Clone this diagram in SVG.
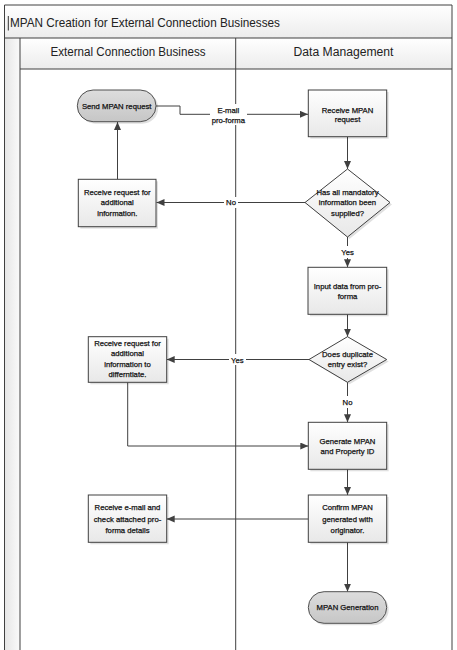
<svg xmlns="http://www.w3.org/2000/svg" width="457" height="650" viewBox="0 0 457 650">
<defs>
<linearGradient id="gHead" x1="0" y1="0" x2="0" y2="1"><stop offset="0" stop-color="#ffffff"/><stop offset="1" stop-color="#ececec"/></linearGradient>
<linearGradient id="gGut" x1="0" y1="0" x2="1" y2="0"><stop offset="0" stop-color="#e6e6e6"/><stop offset="1" stop-color="#fafafa"/></linearGradient>
<linearGradient id="gProc" x1="0" y1="0" x2="0" y2="1"><stop offset="0" stop-color="#ffffff"/><stop offset="1" stop-color="#e8e8e8"/></linearGradient>
<linearGradient id="gTerm" x1="0" y1="0" x2="0" y2="1"><stop offset="0" stop-color="#dddddd"/><stop offset="1" stop-color="#c6c6c6"/></linearGradient>
<marker id="arr" markerUnits="userSpaceOnUse" markerWidth="9" markerHeight="8" refX="8" refY="3.5" orient="auto"><path d="M0,0 L8,3.5 L0,7 z" fill="#404040"/></marker>
<style>
.lane{stroke:#404040;stroke-width:1;fill:none}
.proc{fill:url(#gProc);stroke:#404040;stroke-width:1}
.term{fill:url(#gTerm);stroke:#505050;stroke-width:1}
.shadow{fill:#000;opacity:0.12}
.conn{stroke:#404040;stroke-width:1;fill:none;marker-end:url(#arr)}
.t{font-family:"Liberation Sans",Arial,sans-serif;font-size:7.7px;fill:#111;stroke:#111;stroke-width:0.25px;text-anchor:middle}
.hdr{font-family:"Liberation Sans",Arial,sans-serif;font-size:12px;fill:#222;text-anchor:middle}
.lblbg{fill:#ffffff}
</style>
</defs>
<rect width="457" height="650" fill="#ffffff"/>
<g id="pool">
<rect x="4.5" y="5" width="447.5" height="33" fill="url(#gHead)"/>
<rect x="4.5" y="38" width="15.5" height="612" fill="url(#gGut)"/>
<rect x="20" y="38" width="432" height="31" fill="url(#gHead)"/>
<path class="lane" d="M4.5,650 V5 H452 V650 M4.5,38 H452 M20,38 V650 M20,69 H452 M235.7,38 V650"/>
<line x1="8.3" y1="16" x2="8.3" y2="30.5" stroke="#333" stroke-width="1"/>
<text x="10" y="27" font-family="'Liberation Sans',Arial,sans-serif" font-size="13px" fill="#222" textLength="270" lengthAdjust="spacingAndGlyphs">MPAN Creation for External Connection Businesses</text>
<text class="hdr" x="128" y="56" textLength="155" lengthAdjust="spacingAndGlyphs">External Connection Business</text>
<text class="hdr" x="343.5" y="56" textLength="100" lengthAdjust="spacingAndGlyphs">Data Management</text>
</g>
<g id="connectors">
<path class="conn" d="M156,106 H180 V114.3 H308"/>
<path class="conn" d="M347.5,137 V169"/>
<path class="conn" d="M305,202.5 H156.5"/>
<path class="conn" d="M117.5,179.3 V122"/>
<path class="conn" d="M347.5,236.5 V267.3"/>
<path class="conn" d="M347.5,314.3 V336.7"/>
<path class="conn" d="M309,359.5 H166.7"/>
<path class="conn" d="M347.5,382.3 V422.3"/>
<path class="conn" d="M127.7,382.3 V446 H308.3"/>
<path class="conn" d="M347.5,469.3 V495"/>
<path class="conn" d="M308.3,519 H166.7"/>
<path class="conn" d="M347.5,542.3 V591.7"/>
<rect class="lblbg" x="210" y="104" width="37" height="21"/>
<text class="t" x="228.3" y="112.8">E-mail</text>
<text class="t" x="228.3" y="122.8">pro-forma</text>
<rect class="lblbg" x="224" y="197" width="14" height="11"/>
<text class="t" x="231" y="205.3">No</text>
<rect class="lblbg" x="338" y="246" width="19" height="12"/>
<text class="t" x="347.5" y="255">Yes</text>
<rect class="lblbg" x="229" y="354" width="17" height="11"/>
<text class="t" x="237.3" y="362.5">Yes</text>
<rect class="lblbg" x="339" y="396" width="17" height="12"/>
<text class="t" x="347.5" y="404.5">No</text>
</g>
<g id="n-send">
<rect class="shadow" x="79.5" y="92" width="78.7" height="31.7" rx="15.8"/>
<rect class="term" x="77.3" y="90" width="78.7" height="31.7" rx="15.8"/>
<text class="t" x="116.7" y="109.3">Send MPAN request</text>
</g>
<g id="n-receive-mpan">
<rect class="shadow" x="310.3" y="92" width="78.4" height="46.7"/>
<rect class="proc" x="308.3" y="90" width="78.4" height="46.7"/>
<text class="t" x="347.5" y="112.8">Receive MPAN</text>
<text class="t" x="347.5" y="122.3">request</text>
</g>
<g id="n-mandatory">
<path class="shadow" d="M349.5,171 L392,204.5 L349.5,239 L307,204.5 z"/>
<path class="proc" d="M347.5,169 L390,202.5 L347.5,237 L305,202.5 z"/>
<text class="t" x="347.5" y="195">Has all mandatory</text>
<text class="t" x="347.5" y="205.2">information been</text>
<text class="t" x="347.5" y="215.5">supplied?</text>
</g>
<g id="n-receive-additional">
<rect class="shadow" x="80.3" y="181.3" width="77.7" height="47.4"/>
<rect class="proc" x="78.3" y="179.3" width="77.7" height="47.4"/>
<text class="t" x="117.3" y="195">Receive request for</text>
<text class="t" x="117.3" y="205.4">additional</text>
<text class="t" x="117.3" y="215.8">information.</text>
</g>
<g id="n-input">
<rect class="shadow" x="310" y="269.3" width="78.7" height="47"/>
<rect class="proc" x="308" y="267.3" width="78.7" height="47"/>
<text class="t" x="347.5" y="289.2">Input data from pro-</text>
<text class="t" x="347.5" y="299">forma</text>
</g>
<g id="n-duplicate">
<path class="shadow" d="M349.5,338.7 L388.7,361.5 L349.5,384.3 L311,361.5 z"/>
<path class="proc" d="M347.5,336.7 L386.7,359.5 L347.5,382.3 L309,359.5 z"/>
<text class="t" x="347.5" y="356.7">Does duplicate</text>
<text class="t" x="347.5" y="366.8">entry exist?</text>
</g>
<g id="n-differentiate">
<rect class="shadow" x="90.3" y="338.7" width="78.4" height="45.6"/>
<rect class="proc" x="88.3" y="336.7" width="78.4" height="45.6"/>
<text class="t" x="127.5" y="346">Receive request for</text>
<text class="t" x="127.5" y="356.4">additional</text>
<text class="t" x="127.5" y="366.7">information to</text>
<text class="t" x="127.5" y="377">differntiate.</text>
</g>
<g id="n-generate">
<rect class="shadow" x="310.3" y="424.3" width="78.4" height="47"/>
<rect class="proc" x="308.3" y="422.3" width="78.4" height="47"/>
<text class="t" x="347.5" y="443.7">Generate MPAN</text>
<text class="t" x="347.5" y="454.4">and Property ID</text>
</g>
<g id="n-confirm">
<rect class="shadow" x="310.3" y="497" width="78.4" height="47.3"/>
<rect class="proc" x="308.3" y="495" width="78.4" height="47.3"/>
<text class="t" x="347.5" y="510.4">Confirm MPAN</text>
<text class="t" x="347.5" y="521.7">generated with</text>
<text class="t" x="347.5" y="532.7">originator.</text>
</g>
<g id="n-receive-email">
<rect class="shadow" x="90.3" y="497" width="78.4" height="47.3"/>
<rect class="proc" x="88.3" y="495" width="78.4" height="47.3"/>
<text class="t" x="127.5" y="510.4">Receive e-mail and</text>
<text class="t" x="127.5" y="521.7">check attached pro-</text>
<text class="t" x="127.5" y="532.7">forma details</text>
</g>
<g id="n-generation">
<rect class="shadow" x="310.3" y="593.7" width="78.4" height="31.6" rx="15.8"/>
<rect class="term" x="308.3" y="591.7" width="78.4" height="31.6" rx="15.8"/>
<text class="t" x="347.5" y="610.3">MPAN Generation</text>
</g>
</svg>
